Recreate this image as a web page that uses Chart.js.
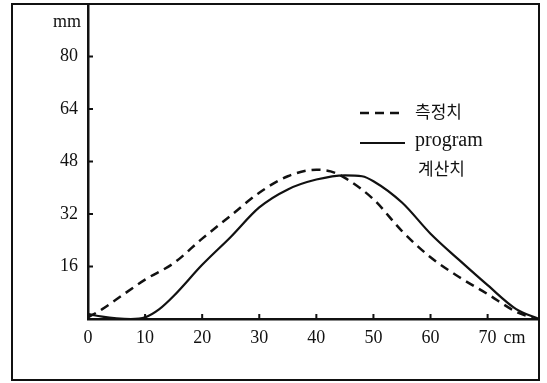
<!DOCTYPE html>
<html>
<head>
<meta charset="utf-8">
<script src="https://cdn.jsdelivr.net/npm/chart.js@4/dist/chart.umd.min.js"></script>
<style>
  body { margin: 0; background: #fff; }
  #wrap { position: relative; width: 547px; height: 383px; }
</style>
</head>
<body>
<div id="wrap"><canvas id="chart" width="547" height="383"></canvas></div>
<script>
// 측정치 (dashed)
const measuredCm = [0, 2.5, 5, 10, 15, 20, 25, 30, 35, 40, 42.5, 45, 50, 55, 60, 65, 70, 75, 78];
const measuredMm = [0.5, 3, 6, 12, 17, 24.5, 31.5, 38.5, 43.5, 45.5, 45, 43, 36.5, 26.8, 18.8, 12.8, 7.6, 2.2, 0.3];

// program 계산치 (solid)
const programCm = [0, 2.5, 5, 7.5, 10, 12.5, 15, 20, 25, 30, 35, 40, 45, 48, 50, 55, 60, 65, 70, 75, 79];
const programMm = [1.5, 0.7, 0.2, 0, 0.5, 3, 7, 16.5, 25, 34, 39.5, 42.5, 43.8, 43.5, 42, 35.5, 26, 18, 10.3, 3, 0];

const xTicks = [0, 10, 20, 30, 40, 50, 60, 70];
const yTicks = [16, 32, 48, 64, 80];
const legendLabels = ['측정치', 'program', '계산치'];

const serif = '"Liberation Serif", "DejaVu Serif", serif';
const korean = '"Noto Sans CJK KR", sans-serif';

function pts(xs, ys) {
    return xs.map((x, i) => ({ x: x, y: ys[i] }));
}

const decor = {
    id: 'decor',
    afterDraw(chart) {
        const ctx = chart.ctx;
        const xs = chart.scales.x;
        const ys = chart.scales.y;
        ctx.save();
        ctx.strokeStyle = '#111';
        ctx.lineWidth = 2;
        ctx.strokeRect(12, 4, 527, 376);

        // inward tick marks
        ctx.lineWidth = 2;
        ctx.beginPath();
        xTicks.slice(1).forEach(v => {
            const px = xs.getPixelForValue(v);
            ctx.moveTo(px, ys.bottom);
            ctx.lineTo(px, ys.bottom - 5);
        });
        yTicks.forEach(v => {
            const py = ys.getPixelForValue(v);
            ctx.moveTo(xs.left, py);
            ctx.lineTo(xs.left + 5, py);
        });
        ctx.stroke();

        // units
        ctx.fillStyle = '#111';
        ctx.font = '18px ' + serif;
        ctx.textBaseline = 'middle';
        ctx.textAlign = 'right';
        ctx.fillText('mm', xs.left - 7, 22);
        ctx.textAlign = 'left';
        ctx.fillText('cm', xs.getPixelForValue(70) + 16, ys.bottom + 19);

        // legend
        const lx = 360, lw = 45;
        ctx.lineWidth = 2.5;
        ctx.setLineDash([9, 6]);
        ctx.beginPath();
        ctx.moveTo(lx, 113);
        ctx.lineTo(lx + lw, 113);
        ctx.stroke();
        ctx.setLineDash([]);
        ctx.lineWidth = 2.2;
        ctx.beginPath();
        ctx.moveTo(lx, 143);
        ctx.lineTo(lx + lw, 143);
        ctx.stroke();

        ctx.textAlign = 'left';
        ctx.font = '17px ' + korean;
        ctx.fillText(legendLabels[0], 415, 112);
        ctx.font = '20px ' + serif;
        ctx.fillText(legendLabels[1], 415, 141);
        ctx.font = '17px ' + korean;
        ctx.fillText(legendLabels[2], 418, 169);
        ctx.restore();
    }
};

new Chart(document.getElementById('chart'), {
    type: 'line',
    data: {
        datasets: [{
            label: legendLabels[0],
            data: pts(measuredCm, measuredMm),
            borderColor: '#111',
            borderWidth: 2.5,
            borderDash: [9, 6],
            pointRadius: 0,
            cubicInterpolationMode: 'monotone',
            fill: false
        }, {
            label: legendLabels[1] + ' ' + legendLabels[2],
            data: pts(programCm, programMm),
            borderColor: '#111',
            borderWidth: 2.2,
            pointRadius: 0,
            cubicInterpolationMode: 'monotone',
            fill: false
        }]
    },
    options: {
        responsive: false,
        animation: false,
        layout: { padding: { left: 0, right: 8, top: 4, bottom: 0 } },
        plugins: {
            legend: { display: false },
            tooltip: { enabled: false }
        },
        scales: {
            x: {
                type: 'linear',
                min: 0,
                max: 79,
                afterBuildTicks: (scale) => { scale.ticks = xTicks.map(v => ({ value: v })); },
                afterFit: (scale) => {
                    scale.height = 64;
                    scale.paddingLeft = 0;
                    scale.paddingRight = 0;
                },
                border: { color: '#111', width: 2.5 },
                grid: { drawOnChartArea: false, drawTicks: false },
                ticks: {
                    color: '#111',
                    padding: 8,
                    maxRotation: 0,
                    autoSkip: false,
                    font: { family: serif, size: 18 }
                }
            },
            y: {
                min: 0,
                max: 96,
                afterBuildTicks: (scale) => { scale.ticks = yTicks.map(v => ({ value: v })); },
                afterFit: (scale) => {
                    scale.width = 88;
                    scale.paddingTop = 0;
                    scale.paddingBottom = 0;
                },
                border: { color: '#111', width: 2.5 },
                grid: { drawOnChartArea: false, drawTicks: false },
                ticks: {
                    color: '#111',
                    padding: 10,
                    autoSkip: false,
                    font: { family: serif, size: 18 }
                }
            }
        }
    },
    plugins: [decor]
});
</script>
</body>
</html>
